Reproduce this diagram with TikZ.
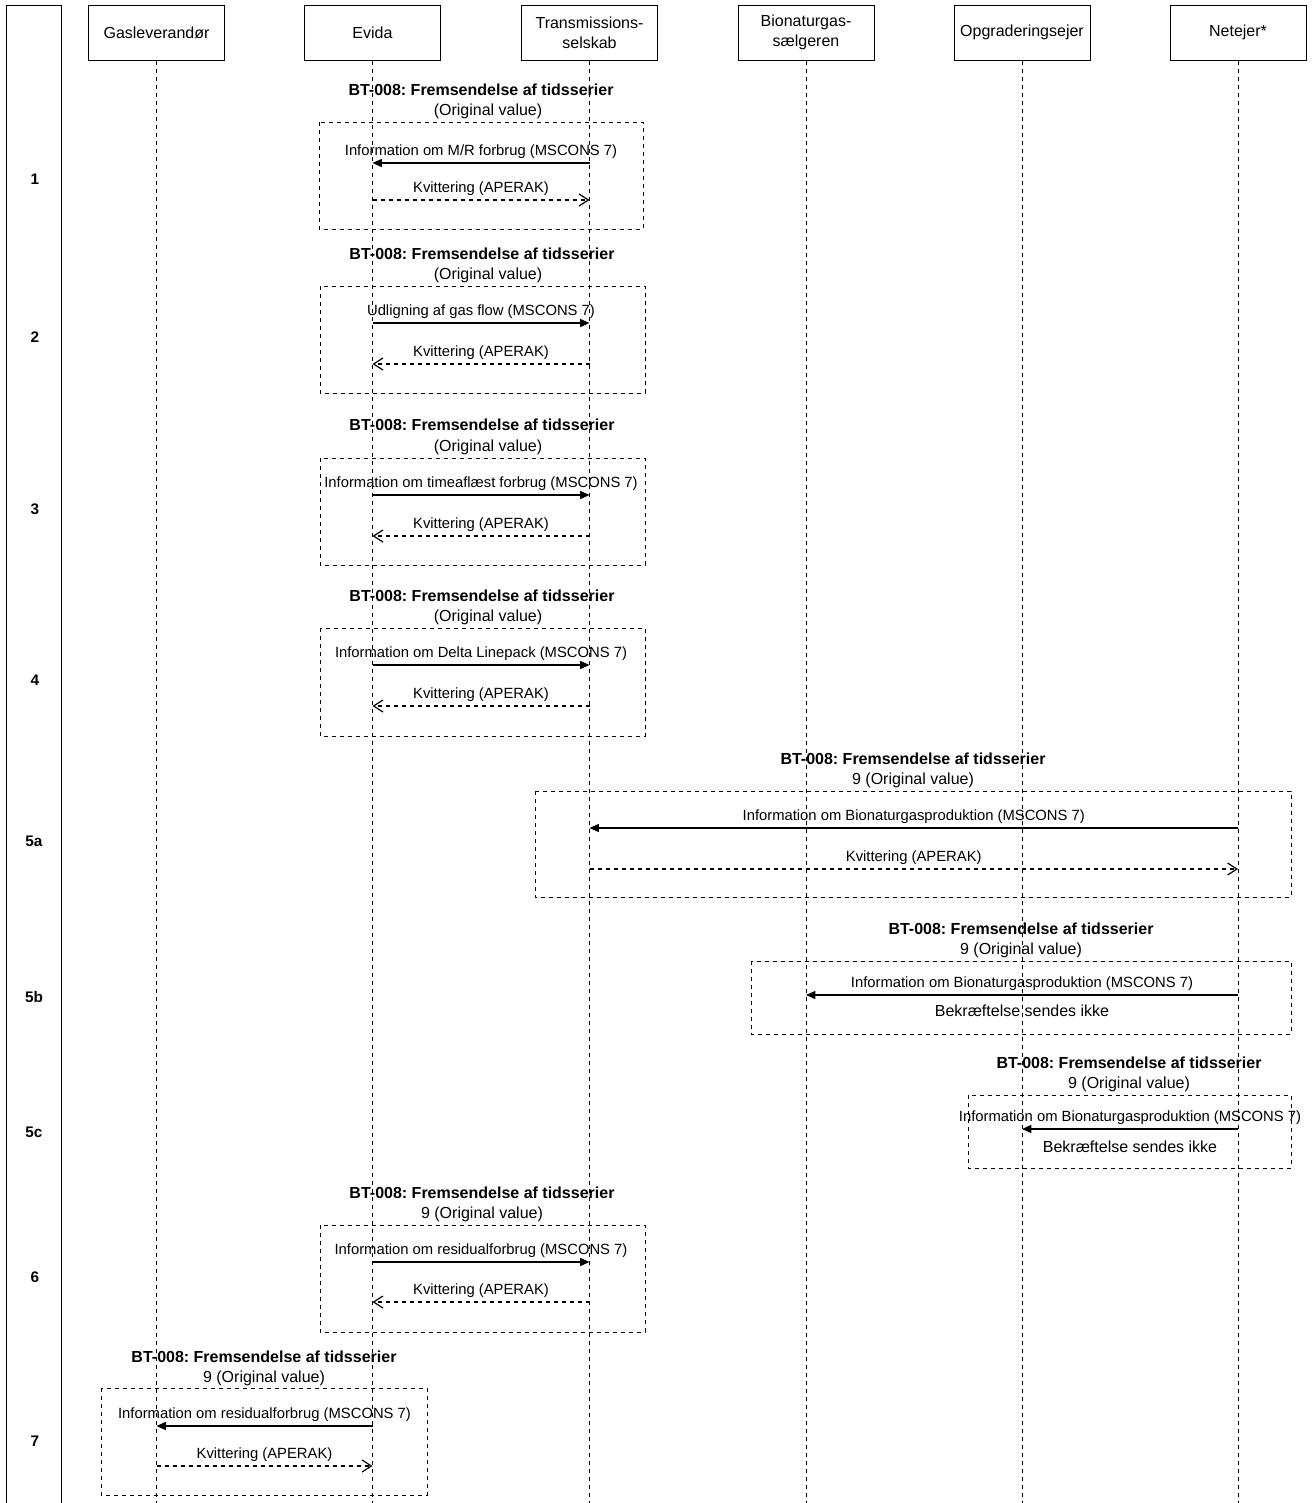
\documentclass[tikz,border=0pt]{standalone}
\usepackage{fontspec}
\setmainfont{Liberation Sans}
\usetikzlibrary{arrows.meta,calc}
\frenchspacing
\begin{document}
\begin{tikzpicture}[x=0.75pt,y=-0.75pt,
  actor/.style={draw, line width=0.75pt, minimum width=102pt, minimum height=41.25pt, inner sep=0pt, align=center, font=\fontsize{12}{15}\selectfont},
  life/.style={line width=0.75pt, dash pattern=on 3pt off 3pt},
  frame/.style={draw, line width=0.75pt, dash pattern=on 3pt off 3pt},
  msg/.style={line width=1pt, -{Triangle[length=7pt,width=6pt]}},
  reply/.style={line width=0.9pt, dash pattern=on 3pt off 3pt, -{Straight Barb[length=7pt,width=9pt]}},
  txt/.style={inner sep=0pt, text height=0.716em, text depth=0pt},
  lbl/.style={txt, font=\fontsize{11.1}{13}\selectfont},
  ttl/.style={txt, font=\bfseries\fontsize{12}{14}\selectfont},
  sub/.style={txt, font=\fontsize{12}{14}\selectfont},
  rownum/.style={txt, font=\bfseries\fontsize{11.5}{13}\selectfont},
]
\useasboundingbox (0,0) rectangle (1313,1503);

% left column
\draw[line width=0.75pt] (6,1503) -- (6,5) -- (61,5) -- (61,1503);

% actors
\node[actor] (gas)   at (156.5,32.5) {Gasleverandør};
\node[actor] (evida) at (372.5,32.5) {Evida};
\node[actor] (trans) at (589.5,32.5) {Transmissions-\\selskab};
\node[actor] (bio)   at (806,32.5)   {Bionaturgas-\\sælgeren};
\node[actor] (opg)   at (1022,32.5)  {Opgraderingsejer};
\node[actor] (net)   at (1238,32.5)  {Netejer*};

% lifelines
\foreach \a in {gas,evida,trans,bio,opg,net}{
  \coordinate (\a E) at (\a |- 0,1503);
  \draw[life] (\a.south) -- (\a E);
}

% row numbers
\node[rownum] (n1)  at (35,180)  {1};
\node[rownum] (n2)  at (35,338)  {2};
\node[rownum] (n3)  at (35,510)  {3};
\node[rownum] (n4)  at (35,681)  {4};
\node[rownum] (n5a) at (34,842)  {5a};
\node[rownum] (n5b) at (34,998)  {5b};
\node[rownum] (n5c) at (34,1133) {5c};
\node[rownum] (n6)  at (35,1278) {6};
\node[rownum] (n7)  at (35,1442) {7};

% block 1
\node[ttl] (t1) at (481,91) {BT-008: Fremsendelse af tidsserier};
\node[sub] (s1) at (488,111) {(Original value)};
\draw[frame] (319,122) rectangle (643,229);
\draw[msg] (trans |- 0,163) -- (evida |- 0,163) node[lbl, midway, yshift=9pt] {Information om M/R forbrug (MSCONS 7)};
\draw[reply] (evida |- 0,200) -- (trans |- 0,200) node[lbl, midway, yshift=9pt] {Kvittering (APERAK)};

% block 2
\node[ttl] (t2) at (482,255) {BT-008: Fremsendelse af tidsserier};
\node[sub] (s2) at (488,275) {(Original value)};
\draw[frame] (320,286) rectangle (645,393);
\draw[msg] (evida |- 0,323) -- (trans |- 0,323) node[lbl, midway, yshift=9pt] {Udligning af gas flow (MSCONS 7)};
\draw[reply] (trans |- 0,364) -- (evida |- 0,364) node[lbl, midway, yshift=9pt] {Kvittering (APERAK)};

% block 3
\node[ttl] (t3) at (482,426) {BT-008: Fremsendelse af tidsserier};
\node[sub] (s3) at (488,447) {(Original value)};
\draw[frame] (320,458) rectangle (645,565);
\draw[msg] (evida |- 0,495) -- (trans |- 0,495) node[lbl, midway, yshift=9pt] {Information om timeaflæst forbrug (MSCONS 7)};
\draw[reply] (trans |- 0,536) -- (evida |- 0,536) node[lbl, midway, yshift=9pt] {Kvittering (APERAK)};

% block 4
\node[ttl] (t4) at (482,597) {BT-008: Fremsendelse af tidsserier};
\node[sub] (s4) at (488,617) {(Original value)};
\draw[frame] (320,628) rectangle (645,736);
\draw[msg] (evida |- 0,665) -- (trans |- 0,665) node[lbl, midway, yshift=9pt] {Information om Delta Linepack (MSCONS 7)};
\draw[reply] (trans |- 0,706) -- (evida |- 0,706) node[lbl, midway, yshift=9pt] {Kvittering (APERAK)};

% block 5a
\node[ttl] (t5a) at (913,760) {BT-008: Fremsendelse af tidsserier};
\node[sub] (s5a) at (913,780) {9 (Original value)};
\draw[frame] (535,791) rectangle (1291,897);
\draw[msg] (net |- 0,828) -- (trans |- 0,828) node[lbl, midway, yshift=9.5pt] {Information om Bionaturgasproduktion (MSCONS 7)};
\draw[reply] (trans |- 0,869) -- (net |- 0,869) node[lbl, midway, yshift=9.5pt] {Kvittering (APERAK)};

% block 5b
\node[ttl] (t5b) at (1021,930) {BT-008: Fremsendelse af tidsserier};
\node[sub] (s5b) at (1021,950) {9 (Original value)};
\draw[frame] (751,961) rectangle (1291,1034);
\draw[msg] (net |- 0,995) -- (bio |- 0,995) node[lbl, midway, yshift=9pt] {Information om Bionaturgasproduktion (MSCONS 7)};
\node[sub] (b5b) at (1022,1012) {Bekræftelse sendes ikke};

% block 5c
\node[ttl] (t5c) at (1129,1064) {BT-008: Fremsendelse af tidsserier};
\node[sub] (s5c) at (1129,1084) {9 (Original value)};
\draw[frame] (968,1095) rectangle (1291,1168);
\draw[msg] (net |- 0,1129) -- (opg |- 0,1129) node[lbl, midway, yshift=9pt] {Information om Bionaturgasproduktion (MSCONS 7)};
\node[sub] (b5c) at (1130,1148) {Bekræftelse sendes ikke};

% block 6
\node[ttl] (t6) at (482,1194) {BT-008: Fremsendelse af tidsserier};
\node[sub] (s6) at (482,1214) {9 (Original value)};
\draw[frame] (320,1225) rectangle (645,1332);
\draw[msg] (evida |- 0,1262) -- (trans |- 0,1262) node[lbl, midway, yshift=9pt] {Information om residualforbrug (MSCONS 7)};
\draw[reply] (trans |- 0,1302) -- (evida |- 0,1302) node[lbl, midway, yshift=9pt] {Kvittering (APERAK)};

% block 7
\node[ttl] (t7) at (264,1358) {BT-008: Fremsendelse af tidsserier};
\node[sub] (s7) at (264,1378) {9 (Original value)};
\draw[frame] (101,1388) rectangle (427,1495);
\draw[msg] (evida |- 0,1426) -- (gas |- 0,1426) node[lbl, midway, yshift=9pt] {Information om residualforbrug (MSCONS 7)};
\draw[reply] (gas |- 0,1466) -- (evida |- 0,1466) node[lbl, midway, yshift=9pt] {Kvittering (APERAK)};
\end{tikzpicture}
\end{document}
